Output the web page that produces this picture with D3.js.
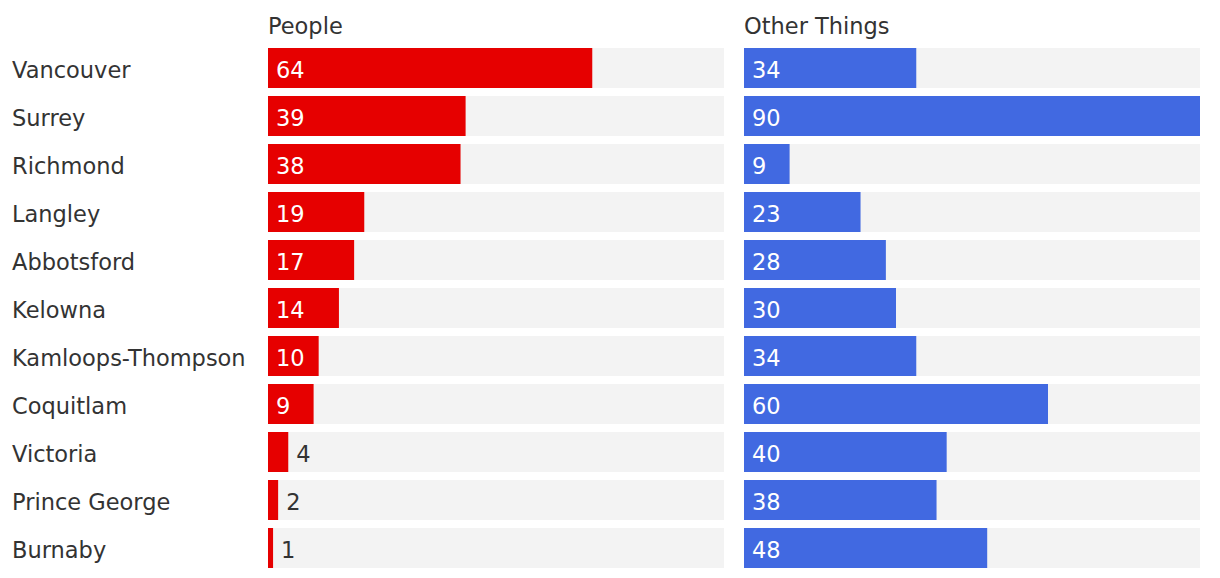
<!DOCTYPE html>
<html><head><meta charset="utf-8">
<script src="https://cdn.jsdelivr.net/npm/d3@7"></script>
<style>body{margin:0;background:#fff;} text{font-family:"DejaVu Sans",sans-serif;}</style>
</head><body>
<svg id="c" width="1220" height="578"></svg>
<script>
const categories = ["Vancouver","Surrey","Richmond","Langley","Abbotsford","Kelowna","Kamloops-Thompson","Coquitlam","Victoria","Prince George","Burnaby"];
const people = [64,39,38,19,17,14,10,9,4,2,1];
const otherThings = [34,90,9,23,28,30,34,60,40,38,48];
const seriesNames = ["People","Other Things"];
const domainMax = 90;

const svg = d3.select("#c");
const yb = d3.scaleBand().domain(categories).range([48, 48+48*11-8]).paddingInner(8/48).paddingOuter(0);
const FS = 22.5;

svg.selectAll("text.cat").data(categories).join("text")
  .attr("class","cat").attr("x",12).attr("y",d=>yb(d)+yb.bandwidth()/2)
  .attr("dy","0.45em").attr("fill","#333").attr("font-size",FS).text(d=>d);

const panels = [
  {name: seriesNames[0], values: people, x0: 268, color: "#e60000"},
  {name: seriesNames[1], values: otherThings, x0: 744, color: "#4169e1"}
];
panels.forEach(p=>{
  const x = d3.scaleLinear().domain([0,domainMax]).range([p.x0, p.x0+456]);
  const g = svg.append("g");
  g.append("text").attr("x",p.x0).attr("y",33.5).attr("fill","#333").attr("font-size",FS).text(p.name);
  g.selectAll("rect.bg").data(categories).join("rect").attr("class","bg")
    .attr("x",x(0)).attr("width",x(domainMax)-x(0)).attr("y",d=>yb(d)).attr("height",yb.bandwidth()).attr("fill","#f3f3f3");
  g.selectAll("rect.bar").data(p.values).join("rect").attr("class","bar")
    .attr("x",x(0)).attr("width",d=>x(d)-x(0)).attr("y",(d,i)=>yb(categories[i])).attr("height",yb.bandwidth()).attr("fill",p.color);
  g.selectAll("text.val").data(p.values).join("text").attr("class","val")
    .attr("x",d=> (x(d)-x(0) < 30) ? x(d)+8 : x(0)+8)
    .attr("y",(d,i)=>yb(categories[i])+yb.bandwidth()/2).attr("dy","0.45em")
    .attr("fill",d=> (x(d)-x(0) < 30) ? "#333" : "#fff").attr("font-size",FS).text(d=>d);
});
</script>
</body></html>
